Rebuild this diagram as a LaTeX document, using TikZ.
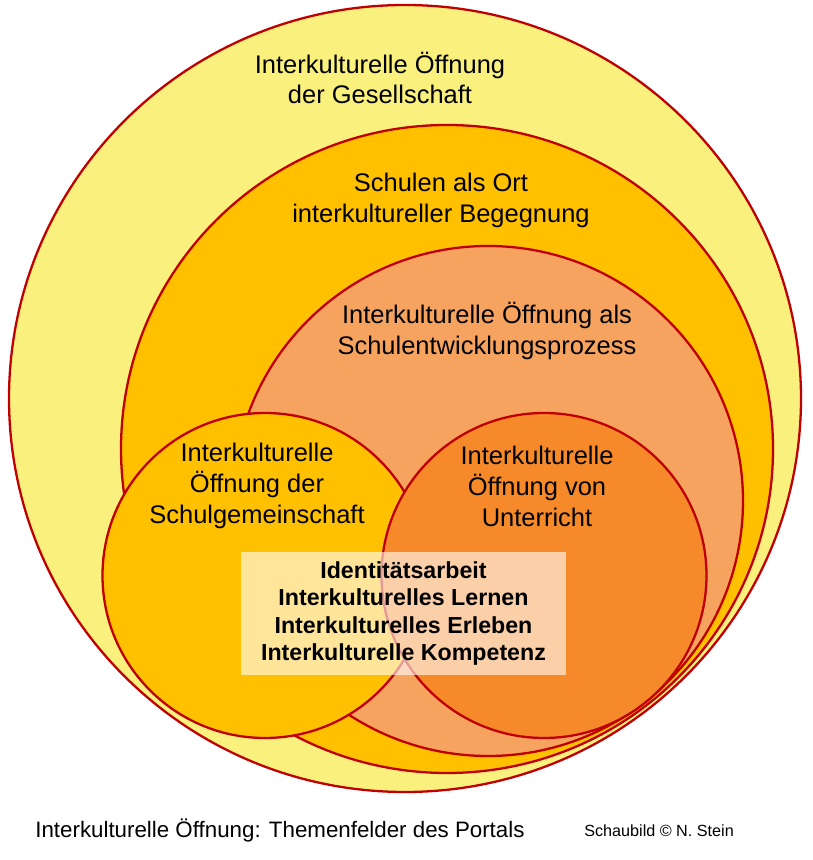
\documentclass[tikz,border=0pt]{standalone}
\usepackage{fontspec}
\setmainfont{Liberation Sans}
\usepackage{tikz}
\usetikzlibrary{positioning}
\definecolor{ringred}{RGB}{192,0,0}
\definecolor{societyyellow}{RGB}{250,240,125}
\definecolor{schoolorange}{RGB}{255,192,0}
\definecolor{processsalmon}{RGB}{247,163,96}
\definecolor{lessonorange}{RGB}{246,138,42}
\tikzset{
	ring/.style={draw=ringred, line width=1.3pt}
}
\tikzset{
	ringtext/.style={align=center, font=\fontsize{14.5}{17.6}\selectfont}
}
\tikzset{
	topictext/.style={align=center, font=\bfseries\fontsize{13.2}{15.4}\selectfont}
}
\begin{document}
\begin{tikzpicture}
      \useasboundingbox[fill=white] (0,0) rectangle (16.26,17.2);
      \filldraw[ring, fill=societyyellow] (8.10,9.23) ellipse (7.92 and 7.87);
      \filldraw[ring, fill=schoolorange] (8.94,8.22) ellipse (6.52 and 6.48);
      \filldraw[ring, fill=processsalmon] (9.76,7.18) circle (5.10);
      \filldraw[ring, fill=schoolorange] (5.30,5.69) circle (3.25);
      \filldraw[ring, fill=lessonorange] (10.88,5.69) circle (3.25);
      \node[ringtext] (society) at (7.60,15.64) {Interkulturelle Öffnung\\der Gesellschaft};
      \node[ringtext] (school) at (8.82,13.20) {Schulen als Ort\\interkultureller Begegnung};
      \node[ringtext] (process) at (9.74,10.58) {Interkulturelle Öffnung als\\Schulentwicklungsprozess};
      \node[ringtext] (community) at (5.14,7.48) {Interkulturelle\\Öffnung der\\Schulgemeinschaft};
      \node[ringtext] (lesson) at (10.74,7.48) {Interkulturelle\\Öffnung von\\Unterricht};
      % the topic box lets the circle edges show through a little
      \node[topictext, fill=white, fill opacity=0.6, text opacity=1,
            minimum width=6.5cm, minimum height=2.46cm] (topics) at (8.07,4.93)
            {Identitätsarbeit\\Interkulturelles Lernen\\Interkulturelles Erleben\\Interkulturelle Kompetenz};
      \node[anchor=west, inner sep=0pt, font=\fontsize{12.7}{15}\selectfont] (caption) at (0.70,0.60)
            {Interkulturelle Öffnung: Themenfelder des Portals};
      \node[anchor=west, inner sep=0pt, font=\fontsize{9.2}{11}\selectfont] (credit) at (11.68,0.58)
            {Schaubild © N. Stein};
    \end{tikzpicture}
\end{document}
